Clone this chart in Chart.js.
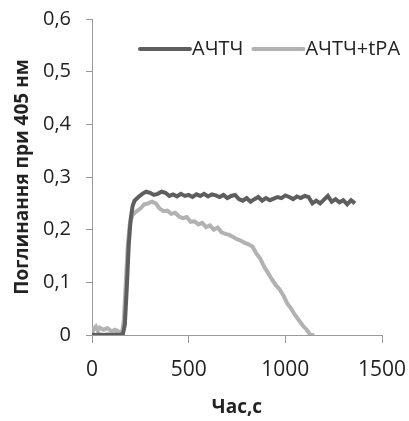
<!DOCTYPE html>
<html>
<head>
<meta charset="utf-8">
<script src="https://cdn.jsdelivr.net/npm/chart.js@4"></script>
<style>
  html, body { margin: 0; padding: 0; background: #fff; }
  #wrap { width: 409px; height: 421px; }
</style>
</head>
<body>
<div id="wrap"><canvas id="chart" width="409" height="421"></canvas></div>
<script>
// Дані: час (с) і поглинання
const timeA = [0, 20, 40, 60, 80, 100, 120, 140, 160, 170, 180, 190, 200, 210, 220, 240, 260, 280, 300, 320, 340, 360, 380, 400, 420, 440, 460, 480, 500, 520, 540, 560, 580, 600, 620, 640, 660, 680, 700, 720, 740, 760, 780, 800, 820, 840, 860, 880, 900, 920, 940, 960, 980, 1000, 1020, 1040, 1060, 1080, 1100, 1120, 1140, 1160, 1180, 1200, 1220, 1240, 1260, 1280, 1300, 1320, 1340, 1360];
const valuesA = [0.001, 0, 0.001, 0, 0.001, 0, 0.001, 0, 0.002, 0.02, 0.09, 0.17, 0.22, 0.245, 0.255, 0.262, 0.268, 0.272, 0.27, 0.266, 0.268, 0.272, 0.27, 0.264, 0.267, 0.263, 0.268, 0.264, 0.266, 0.262, 0.267, 0.264, 0.268, 0.263, 0.267, 0.265, 0.262, 0.266, 0.26, 0.264, 0.266, 0.258, 0.255, 0.26, 0.253, 0.258, 0.262, 0.255, 0.26, 0.256, 0.259, 0.262, 0.26, 0.265, 0.262, 0.258, 0.263, 0.26, 0.264, 0.262, 0.25, 0.255, 0.25, 0.257, 0.264, 0.253, 0.258, 0.252, 0.256, 0.248, 0.256, 0.25];

const timeB = [0, 10, 20, 30, 40, 60, 80, 100, 120, 140, 155, 165, 175, 185, 195, 210, 230, 250, 270, 290, 310, 330, 350, 370, 390, 410, 430, 450, 470, 490, 510, 530, 550, 570, 590, 610, 630, 650, 670, 690, 710, 730, 750, 770, 790, 810, 830, 850, 870, 890, 910, 930, 950, 970, 990, 1010, 1030, 1050, 1070, 1090, 1110, 1130, 1150];
const valuesB = [0.004, 0.012, 0.016, 0.008, 0.014, 0.01, 0.013, 0.007, 0.01, 0.006, 0.004, 0.03, 0.1, 0.17, 0.21, 0.228, 0.235, 0.24, 0.248, 0.25, 0.253, 0.25, 0.24, 0.235, 0.236, 0.23, 0.232, 0.225, 0.222, 0.224, 0.215, 0.216, 0.21, 0.213, 0.205, 0.208, 0.2, 0.204, 0.195, 0.192, 0.19, 0.186, 0.182, 0.179, 0.175, 0.172, 0.168, 0.155, 0.145, 0.13, 0.118, 0.106, 0.095, 0.087, 0.075, 0.06, 0.05, 0.038, 0.028, 0.018, 0.01, 0, 0];

const seriesNames = ['АЧТЧ', 'АЧТЧ+tPA'];
const seriesColors = ['#5e5e5e', '#b2b2b2'];
const xTicks = [0, 500, 1000, 1500];
const yTicks = [0, 0.1, 0.2, 0.3, 0.4, 0.5, 0.6];

const FONT = '"Open Sans", "DejaVu Sans", sans-serif';
const AXIS = '#999999';

function toPoints(xs, ys) {
    return xs.map((x, i) => ({ x: x, y: ys[i] }));
}

// Легенда всередині області графіка
const legendInside = {
    id: 'legendInside',
    afterDraw(chart) {
        const ctx = chart.ctx;
        ctx.save();
        ctx.font = '20px ' + FONT;
        ctx.textBaseline = 'middle';
        ctx.fillStyle = '#222';
        const y = 49;
        let x = 140;
        seriesNames.forEach((name, i) => {
            ctx.strokeStyle = seriesColors[i];
            ctx.lineWidth = 4;
            ctx.lineCap = 'round';
            ctx.beginPath();
            ctx.moveTo(x, y);
            ctx.lineTo(x + 50, y);
            ctx.stroke();
            ctx.fillText(name, x + 52, y);
            x += 52 + ctx.measureText(name).width + 10;
        });
        ctx.restore();
    }
};

new Chart(document.getElementById('chart').getContext('2d'), {
    type: 'line',
    data: {
        datasets: [
            {
                label: seriesNames[0],
                data: toPoints(timeA, valuesA),
                borderColor: seriesColors[0],
                borderWidth: 4,
                pointRadius: 0,
                tension: 0
            },
            {
                label: seriesNames[1],
                data: toPoints(timeB, valuesB),
                borderColor: seriesColors[1],
                borderWidth: 4,
                pointRadius: 0,
                tension: 0
            }
        ]
    },
    options: {
        responsive: false,
        animation: false,
        layout: { padding: { top: 19, right: 27, left: 0, bottom: 0 } },
        plugins: {
            legend: { display: false },
            tooltip: { enabled: false }
        },
        scales: {
            x: {
                type: 'linear',
                min: 0,
                max: 1500,
                afterBuildTicks: axis => { axis.ticks = xTicks.map(v => ({ value: v })); },
                afterFit: axis => {
                    axis.height = 86;
                    axis.paddingLeft = 0;
                    axis.paddingRight = 0;
                },
                grid: { drawOnChartArea: false, drawTicks: true, tickLength: 8, color: AXIS },
                border: { color: AXIS, width: 1 },
                ticks: {
                    color: '#222',
                    padding: 14,
                    font: { family: FONT, size: 21 },
                    maxRotation: 0,
                    callback: v => String(v)
                },
                title: {
                    display: true,
                    text: 'Час,с',
                    color: '#222',
                    font: { family: FONT, size: 19, weight: 'bold' },
                    padding: { top: 4, bottom: 2 }
                }
            },
            y: {
                min: 0,
                max: 0.6,
                afterBuildTicks: axis => { axis.ticks = yTicks.map(v => ({ value: v })); },
                afterFit: axis => {
                    axis.width = 92;
                    axis.paddingTop = 0;
                    axis.paddingBottom = 0;
                },
                grid: { drawOnChartArea: false, drawTicks: true, tickLength: 6, color: AXIS },
                border: { color: AXIS, width: 1 },
                ticks: {
                    color: '#222',
                    padding: 15,
                    font: { family: FONT, size: 20 },
                    callback: v => v === 0 ? '0' : v.toFixed(1).replace('.', ',')
                },
                title: {
                    display: true,
                    text: 'Поглинання при 405 нм',
                    color: '#222',
                    font: { family: FONT, size: 19, weight: 'bold' },
                    padding: { top: 11, bottom: 0 }
                }
            }
        }
    },
    plugins: [legendInside]
});
</script>
</body>
</html>
